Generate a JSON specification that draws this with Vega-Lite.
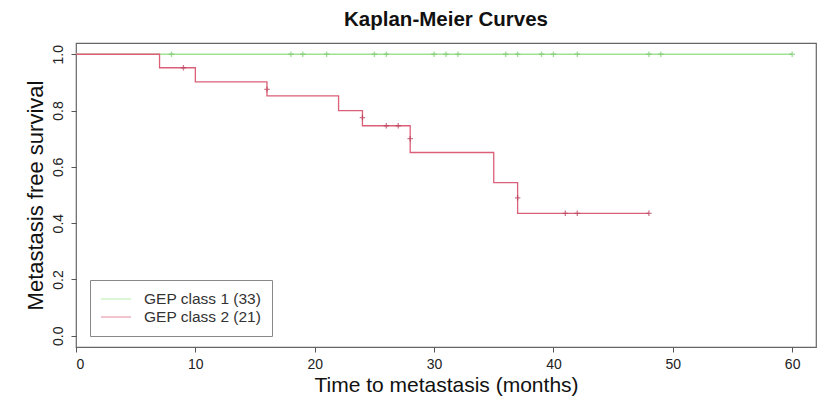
{
  "$schema": "https://vega.github.io/schema/vega-lite/v6.json",
  "width": 740,
  "height": 304,
  "autosize": {"type": "none"},
  "padding": {"left": 76, "top": 43, "right": 9, "bottom": 54},
  "background": "white",
  "title": {
    "text": "Kaplan-Meier Curves",
    "font": "Liberation Sans",
    "fontSize": 20.5,
    "fontWeight": "bold",
    "color": "#111111",
    "anchor": "middle",
    "offset": 13
  },
  "config": {
    "view": {"stroke": "#666666", "strokeWidth": 1.2},
    "font": "Liberation Sans",
    "axis": {
      "grid": false,
      "domain": false,
      "tickColor": "#555555",
      "tickSize": 5,
      "labelFont": "Liberation Sans",
      "labelFontSize": 14,
      "labelColor": "#222222",
      "titleFont": "Liberation Sans",
      "titleFontWeight": "normal",
      "titleColor": "#111111"
    }
  },
  "datasets": {
    "curves": [
      {"group": "GEP class 1 (33)", "t": 0, "s": 1.0},
      {"group": "GEP class 1 (33)", "t": 60, "s": 1.0},
      {"group": "GEP class 2 (21)", "t": 0, "s": 1.0},
      {"group": "GEP class 2 (21)", "t": 7, "s": 0.952},
      {"group": "GEP class 2 (21)", "t": 10, "s": 0.902},
      {"group": "GEP class 2 (21)", "t": 16, "s": 0.852},
      {"group": "GEP class 2 (21)", "t": 22, "s": 0.8},
      {"group": "GEP class 2 (21)", "t": 24, "s": 0.746},
      {"group": "GEP class 2 (21)", "t": 28, "s": 0.651},
      {"group": "GEP class 2 (21)", "t": 35, "s": 0.544},
      {"group": "GEP class 2 (21)", "t": 37, "s": 0.435},
      {"group": "GEP class 2 (21)", "t": 48, "s": 0.435}
    ],
    "censors": [
      {"group": "GEP class 1 (33)", "t": 8, "s": 1.0},
      {"group": "GEP class 1 (33)", "t": 18, "s": 1.0},
      {"group": "GEP class 1 (33)", "t": 19, "s": 1.0},
      {"group": "GEP class 1 (33)", "t": 21, "s": 1.0},
      {"group": "GEP class 1 (33)", "t": 25, "s": 1.0},
      {"group": "GEP class 1 (33)", "t": 26, "s": 1.0},
      {"group": "GEP class 1 (33)", "t": 30, "s": 1.0},
      {"group": "GEP class 1 (33)", "t": 31, "s": 1.0},
      {"group": "GEP class 1 (33)", "t": 32, "s": 1.0},
      {"group": "GEP class 1 (33)", "t": 36, "s": 1.0},
      {"group": "GEP class 1 (33)", "t": 37, "s": 1.0},
      {"group": "GEP class 1 (33)", "t": 39, "s": 1.0},
      {"group": "GEP class 1 (33)", "t": 40, "s": 1.0},
      {"group": "GEP class 1 (33)", "t": 42, "s": 1.0},
      {"group": "GEP class 1 (33)", "t": 48, "s": 1.0},
      {"group": "GEP class 1 (33)", "t": 49, "s": 1.0},
      {"group": "GEP class 1 (33)", "t": 60, "s": 1.0},
      {"group": "GEP class 2 (21)", "t": 9, "s": 0.952},
      {"group": "GEP class 2 (21)", "t": 16, "s": 0.875},
      {"group": "GEP class 2 (21)", "t": 24, "s": 0.775},
      {"group": "GEP class 2 (21)", "t": 26, "s": 0.746},
      {"group": "GEP class 2 (21)", "t": 27, "s": 0.746},
      {"group": "GEP class 2 (21)", "t": 28, "s": 0.7},
      {"group": "GEP class 2 (21)", "t": 37, "s": 0.49},
      {"group": "GEP class 2 (21)", "t": 41, "s": 0.435},
      {"group": "GEP class 2 (21)", "t": 42, "s": 0.435},
      {"group": "GEP class 2 (21)", "t": 48, "s": 0.435}
    ]
  },
  "layer": [
    {
      "data": {"name": "curves"},
      "mark": {"type": "line", "interpolate": "step-after", "strokeWidth": 1.3},
      "encoding": {
        "x": {
          "field": "t",
          "type": "quantitative",
          "scale": {"domain": [0, 62], "nice": false, "zero": false},
          "axis": {
            "values": [0, 10, 20, 30, 40, 50, 60],
            "title": "Time to metastasis (months)",
            "titleFontSize": 21,
            "labelPadding": 5,
            "titlePadding": 3
          }
        },
        "y": {
          "field": "s",
          "type": "quantitative",
          "scale": {"domain": [-0.04, 1.04], "nice": false, "zero": false},
          "axis": {
            "values": [0, 0.2, 0.4, 0.6, 0.8, 1.0],
            "format": ".1f",
            "labelAngle": -90,
            "labelAlign": "center",
            "labelBaseline": "bottom",
            "labelPadding": 6,
            "title": "Metastasis free survival",
            "titleFontSize": 22,
            "titlePadding": 4
          }
        },
        "color": {
          "field": "group",
          "type": "nominal",
          "scale": {
            "domain": ["GEP class 1 (33)", "GEP class 2 (21)"],
            "range": ["#9fe391", "#dc5f78"]
          },
          "legend": {
            "title": null,
            "orient": "none",
            "legendX": 14,
            "legendY": 237,
            "direction": "vertical",
            "strokeColor": "#888888",
            "padding": 10,
            "symbolType": "M-1.875,0L1.875,0",
            "symbolSize": 256,
            "symbolOffset": 7,
            "symbolStrokeWidth": 1.3,
            "symbolOpacity": 0.55,
            "labelFont": "Liberation Sans",
            "labelFontSize": 15.5,
            "labelColor": "#333333",
            "labelOffset": 19,
            "rowPadding": -1
          }
        },
        "order": {"field": "group"}
      }
    },
    {
      "data": {"name": "censors"},
      "mark": {
        "type": "point",
        "shape": "M-1,0L1,0M0,-1L0,1",
        "filled": false,
        "size": 30,
        "strokeWidth": 1.3
      },
      "encoding": {
        "x": {"field": "t", "type": "quantitative"},
        "y": {"field": "s", "type": "quantitative"},
        "color": {
          "field": "group",
          "type": "nominal",
          "scale": {
            "domain": ["GEP class 1 (33)", "GEP class 2 (21)"],
            "range": ["#7ccb70", "#b8405c"]
          },
          "legend": null
        }
      }
    }
  ],
  "resolve": {"scale": {"color": "independent"}}
}
